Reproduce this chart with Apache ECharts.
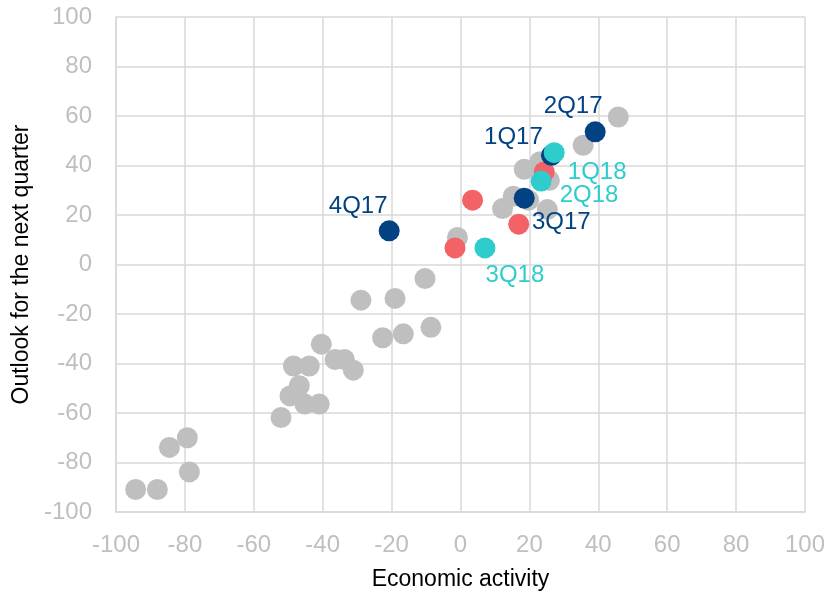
<!DOCTYPE html>
<html>
<head>
<meta charset="utf-8">
<script src="https://cdn.jsdelivr.net/npm/echarts@6/dist/echarts.min.js"></script>
<style>
html, body { margin: 0; padding: 0; background: #fff; }
#main { width: 829px; height: 593px; }
</style>
</head>
<body>
<div id="main"></div>
<script>
// tick values on both axes
var axisTicks = [-100, -80, -60, -40, -20, 0, 20, 40, 60, 80, 100];

// earlier quarters (grey)
var histX = [-94.3, -88.0, -78.7, -84.5, -79.3, -52.1, -49.5, -46.8, -48.5, -43.9, -45.2, -41.0, -40.4, -36.4, -33.7, -31.1, -28.9, -22.6, -19.0, -16.6, -8.6, -10.3, -0.9, 12.2, 15.3, 19.8, 25.2, 18.5, 23.1, 25.8, 35.6, 45.8];
var histY = [-90.9, -90.9, -83.8, -73.9, -70.0, -61.8, -53.1, -49.0, -41.0, -41.0, -56.4, -56.4, -32.2, -38.4, -38.4, -42.7, -14.4, -29.6, -13.7, -28.0, -25.4, -5.7, 10.9, 22.6, 27.6, 26.0, 22.2, 38.5, 41.5, 34.0, 48.2, 59.6];

// red points
var redX = [-1.6, 3.5, 16.9, 24.3];
var redY = [6.7, 26.0, 16.3, 37.4];

// 2017 quarters (navy)
var q17Names = ['1Q17', '2Q17', '3Q17', '4Q17'];
var q17X = [26.4, 39.1, 18.5, -20.7];
var q17Y = [44.1, 53.6, 26.8, 13.6];

// 2018 quarters (teal)
var q18Names = ['1Q18', '2Q18', '3Q18'];
var q18X = [27.2, 23.4, 7.1];
var q18Y = [45.2, 33.7, 6.7];

var labelOffsets = {
    '1Q17': [-38, -18],
    '2Q17': [-22, -25],
    '3Q17': [37, 24],
    '4Q17': [-31, -24],
    '1Q18': [43, 20],
    '2Q18': [48, 14],
    '3Q18': [30, 27]
};

function pairs(xs, ys) {
    return xs.map(function (x, i) { return [x, ys[i]]; });
}

function labelled(xs, ys, names, color) {
    return xs.map(function (x, i) {
        return {
            name: names[i],
            value: [x, ys[i]],
            label: {
                show: true,
                position: 'inside',
                offset: labelOffsets[names[i]],
                formatter: '{b}',
                color: color,
                fontSize: 24,
                fontFamily: 'Liberation Sans'
            }
        };
    });
}

var gridColor = '#D9D9D9';
var tickColor = '#BFBFBF';

function axis(name, nameGap, margin) {
    return {
        type: 'value',
        min: -100,
        max: 100,
        interval: 20,
        name: name,
        nameLocation: 'middle',
        nameGap: nameGap,
        nameTextStyle: { color: '#000', fontSize: 23, fontFamily: 'Liberation Sans' },
        axisLine: { show: true, onZero: false, lineStyle: { color: gridColor, width: 1.5 } },
        axisTick: { show: false },
        axisLabel: {
            color: tickColor,
            fontSize: 24,
            fontFamily: 'Liberation Sans',
            margin: margin,
            formatter: function (v) { return axisTicks.indexOf(v) >= 0 ? String(v) : ''; }
        },
        splitLine: { show: true, lineStyle: { color: gridColor, width: 1.5 } }
    };
}

var myChart = echarts.init(document.getElementById('main'));

var option = {
    backgroundColor: '#fff',
    animation: false,
    grid: { left: 116, right: 24, top: 17, bottom: 81, outerBoundsMode: 'none' },
    xAxis: axis('Economic activity', 56, 21),
    yAxis: axis('Outlook for the next quarter', 81, 24),
    series: [
        {
            name: 'History',
            type: 'scatter',
            symbolSize: 21,
            itemStyle: { color: '#BFBFBF', opacity: 1 },
            data: pairs(histX, histY)
        },
        {
            name: 'Red',
            type: 'scatter',
            symbolSize: 21,
            itemStyle: { color: '#F26266', opacity: 1 },
            data: pairs(redX, redY)
        },
        {
            name: '2017',
            type: 'scatter',
            symbolSize: 21,
            itemStyle: { color: '#024283', opacity: 1 },
            data: labelled(q17X, q17Y, q17Names, '#024283')
        },
        {
            name: '2018',
            type: 'scatter',
            symbolSize: 21,
            itemStyle: { color: '#2ECCCC', opacity: 1 },
            data: labelled(q18X, q18Y, q18Names, '#2ECCCC')
        }
    ]
};

myChart.setOption(option);
</script>
</body>
</html>
